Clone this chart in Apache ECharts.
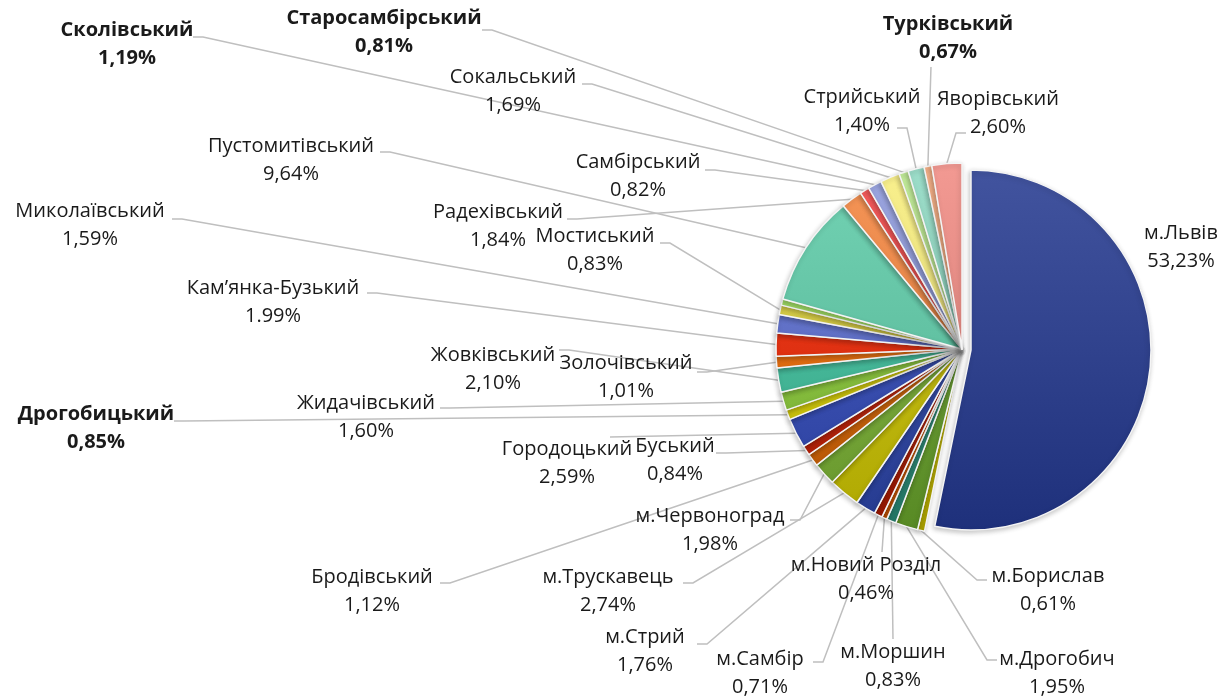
<!DOCTYPE html>
<html lang="uk">
<head>
<meta charset="utf-8">
<title>Частка районів і міст Львівської області</title>
<script src="https://cdn.jsdelivr.net/npm/echarts@6/dist/echarts.min.js"></script>
<style>
  html, body { margin: 0; padding: 0; background: #fff; }
  #chart { width: 1227px; height: 696px; }
</style>
</head>
<body>
<div id="chart"></div>
<script>
// --- Data, clockwise from 12 o'clock (as in the source chart) ---
const names = [
  "м.Львів", "м.Борислав", "м.Дрогобич", "м.Моршин", "м.Новий Розділ", "м.Самбір",
  "м.Стрий", "м.Трускавець", "м.Червоноград", "Бродівський", "Буський", "Городоцький",
  "Дрогобицький", "Жидачівський", "Жовківський", "Золочівський", "Кам’янка-Бузький",
  "Миколаївський", "Мостиський", "Перемишлянський", "Пустомитівський", "Радехівський",
  "Самбірський", "Сколівський", "Сокальський", "Старосамбірський", "Стрийський",
  "Турківський", "Яворівський",
];
const shares = [
  53.23, 0.61, 1.95, 0.83, 0.46, 0.71,
  1.76, 2.74, 1.98, 1.12, 0.84, 2.59,
  0.85, 1.60, 2.10, 1.01, 1.99,
  1.59, 0.83, 0.55, 9.64, 1.84,
  0.82, 1.19, 1.69, 0.81, 1.40,
  0.67, 2.60,
];
// Percent text exactly as printed on the chart ("" = no label shown)
const shareText = [
  "53,23%", "0,61%", "1,95%", "0,83%", "0,46%", "0,71%",
  "1,76%", "2,74%", "1,98%", "1,12%", "0,84%", "2,59%",
  "0,85%", "1,60%", "2,10%", "1,01%", "1.99%",
  "1,59%", "0,83%", "", "9,64%", "1,84%",
  "0,82%", "1,19%", "1,69%", "0,81%", "1,40%",
  "0,67%", "2,60%",
];
const boldNames = ["Сколівський", "Старосамбірський", "Турківський", "Дрогобицький"];
const explodedName = "м.Львів";

// --- Styles ---
const COLORS = [
  "#23388f", "#c8bc00", "#66a02a", "#2a8c78", "#d05600", "#b01a00",
  "#2b44a8", "#ccc300", "#78b032", "#d46200", "#c41c00", "#3048b8",
  "#dcd300", "#88c836", "#3cc09c", "#f06a00", "#f02400",
  "#5a6cd0", "#e2d63a", "#a6ee60", "#5ccca8", "#f4843c",
  "#f84444", "#8c98dc", "#f8ee7a", "#bcec8c", "#8cd8c0",
  "#f8a878", "#f08880",
];

// Label placement: [centerX, centerY, lineEndX, lineEndY, stubDir]
// stubDir: 1 = short horizontal stub to the right of the label, -1 = to the left, 0 = none
const LABEL_POS = [
  [1181, 247],
  [1048, 590, 987, 580, -1],
  [1057, 673, 997, 660, -1],
  [893, 666, 893, 639, 0],
  [866, 579, 882, 552, 0],
  [760, 673, 813, 662, 1],
  [645, 651, 697, 644, 1],
  [608, 591, 683, 583, 1],
  [710, 530, 790, 520, 1],
  [372, 591, 440, 583, 1],
  [675, 460, 716, 453, 1],
  [567, 463, 610, 437, 0],
  [96, 428, 174, 421, 1],
  [366, 417, 440, 408, 1],
  [493, 369, 559, 350, 1],
  [626, 377, 697, 372, 1],
  [273, 302, 367, 293, 1],
  [90, 225, 172, 219, 1],
  [595, 250, 660, 243, 1],
  null,
  [291, 160, 380, 152, 1],
  [498, 226, 567, 219, 1],
  [638, 176, 705, 170, 1],
  [127, 44, 193, 37, 1],
  [513, 91, 582, 84, 1],
  [384, 32, 482, 30, 1],
  [862, 111, 897, 128, 1],
  [948, 38, 931, 67, 0],
  [998, 113, 966, 133, -1],
];

function shade(hex, amt) {
  const n = parseInt(hex.slice(1), 16);
  const f = (c) => Math.max(0, Math.min(255, Math.round(amt > 0 ? c + (255 - c) * amt : c * (1 + amt))));
  return `rgb(${f(n >> 16)},${f((n >> 8) & 255)},${f(n & 255)})`;
}

// Excel-style vertical gradient over the whole pie
function gradient(hex) {
  return new echarts.graphic.LinearGradient(0, 166, 0, 532, [
    { offset: 0, color: shade(hex, 0.14) },
    { offset: 1, color: shade(hex, -0.14) },
  ], true);
}

const HIDDEN = {
  itemStyle: { color: "transparent", borderWidth: 0, shadowBlur: 0, shadowColor: "transparent" },
  label: { show: false },
  labelLine: { show: false },
};

// Build one ring: `visible(name)` decides which slices this series paints
function buildData(visible) {
  return names.map((name, i) => {
    if (!visible(name)) return { name, value: shares[i], ...HIDDEN };
    const item = {
      name,
      value: shares[i],
      itemStyle: { color: gradient(COLORS[i]) },
      label: { formatter: shareText[i] ? `${name}\n${shareText[i]}` : "" },
    };
    if (boldNames.includes(name)) item.label.fontWeight = "bold";
    if (!shareText[i]) { item.label.show = false; item.labelLine = { show: false }; }
    if (name === explodedName) item.labelLine = { show: false };
    return item;
  });
}

function labelLayout(params) {
  const p = LABEL_POS[params.dataIndex];
  if (!p) return {};
  const [cx, cy, sx, sy, dir] = p;
  const out = { x: cx, y: cy, align: "center", verticalAlign: "middle" };
  const pts = params.labelLinePoints;
  if (pts && sx != null) {
    const start = pts[0];
    out.labelLinePoints = dir
      ? [start, [sx + dir * 10, sy], [sx, sy]]
      : [start, [sx, sy], [sx, sy]];
  }
  return out;
}

const baseSeries = {
  type: "pie",
  startAngle: 90,
  clockwise: true,
  avoidLabelOverlap: false,
  emphasis: { disabled: true },
  itemStyle: {
    borderColor: "#f4f4f4",
    borderWidth: 1.5,
    shadowBlur: 5,
    shadowColor: "rgba(0,0,0,0.22)",
    shadowOffsetX: -1,
    shadowOffsetY: 2,
  },
  label: {
    show: true,
    position: "outside",
    fontFamily: "Open Sans",
    fontSize: 20,
    lineHeight: 28,
    color: "#1a1a1a",
    align: "center",
  },
  labelLine: {
    show: true,
    length: 10,
    length2: 10,
    lineStyle: { color: "#bfbfbf", width: 1.5 },
  },
  labelLayout,
};

const chart = echarts.init(document.getElementById("chart"), null, { renderer: "canvas" });
chart.setOption({
  backgroundColor: "#ffffff",
  animation: false,
  series: [
    // all districts and towns except the pulled-out slice
    { ...baseSeries, name: "rest", center: [962, 349], radius: 186,
      data: buildData((n) => n !== explodedName) },
    // the pulled-out slice (м.Львів)
    { ...baseSeries, name: "exploded", center: [971, 350], radius: 180,
      data: buildData((n) => n === explodedName) },
  ],
});
</script>
</body>
</html>
